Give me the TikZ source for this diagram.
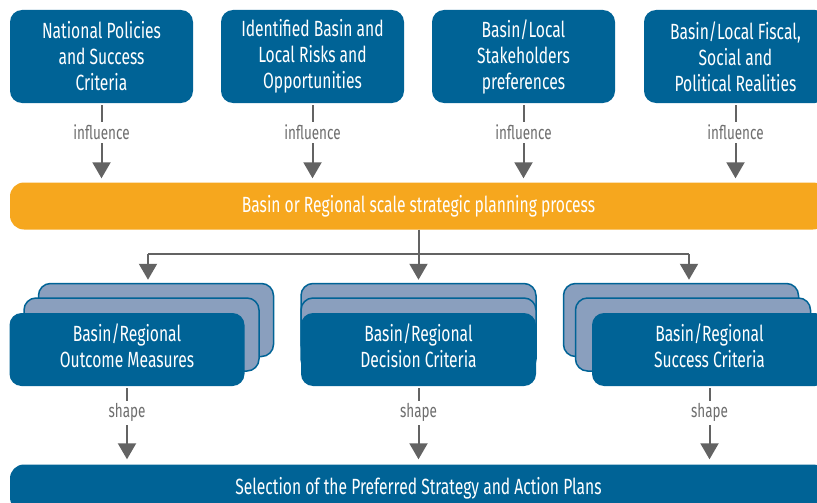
\documentclass[tikz,border=0pt]{standalone}
\usepackage{fontspec}
\setmainfont{Fira Sans}[FakeStretch=0.71]
\usetikzlibrary{arrows.meta}

\definecolor{wbblue}{RGB}{0,99,150}
\definecolor{wbback}{RGB}{138,159,190}
\definecolor{wborange}{RGB}{246,167,30}
\definecolor{arrgray}{RGB}{99,99,99}
\definecolor{lblgray}{RGB}{110,110,110}

\begin{document}
\begin{tikzpicture} [x=1pt,y=-1pt,
  box/.style= {fill=wbblue,rounded corners=12pt,text=white,align=center,minimum width=183pt,minimum height=93pt,inner sep=0,font=\fontsize{22}{26}\selectfont},
  bar/.style= {rounded corners=14pt,text=white,minimum width=817pt,minimum height=47pt,inner sep=0,font=\fontsize{22}{26}\selectfont},
  back/.style= {draw=wbblue,line width=1.5pt,fill=wbback,rounded corners=12pt,minimum width=235pt,minimum height=73pt,inner sep=0},
  front/.style= {fill=wbblue,rounded corners=12pt,text=white,align=center,minimum width=235pt,minimum height=73pt,inner sep=0,text depth=8pt,font=\fontsize{22}{26}\selectfont},
  arr/.style= {draw=arrgray,line width=2pt,-{Triangle[width=18pt,length=16pt]}},
  lbl/.style= {fill=white,text=lblgray,inner sep=3pt,font=\fontsize{19}{20}\selectfont}]
\useasboundingbox (0,0) rectangle (817,503);
\clip (0,0) rectangle (817,503);

% top row
\node[box] (nat) at (101.5,56.5) {National Policies\\and Success\\Criteria};
\node[box] (risk) at (312.5,56.5) {Identified Basin and\\Local Risks and\\Opportunities};
\node[box] (stake) at (523.5,56.5) {Basin/Local\\Stakeholders\\preferences};
\node[box] (fisc) at (735.5,56.5) {Basin/Local Fiscal,\\Social and\\Political Realities};

\node[bar,fill=wborange] (plan) at (418.5,206) {Basin or Regional scale strategic planning process};

\foreach \b in {nat,risk,stake,fisc}
  \draw[arr,shorten <=2pt,shorten >=4pt] (\b.south) -- node[lbl,pos=0.37] {influence} (\b.south |- plan.north);

% stacked boxes
\node[back] (om3) at (156,320) {};
\node[back] (om2) at (141.5,334.5) {};
\node[front] (om) at (127,349.5) {Basin/Regional\\Outcome Measures};

\node[back] (dc3) at (418.5,320) {};
\node[back] (dc2) at (418.5,334.5) {};
\node[front] (dc) at (418.5,349.5) {Basin/Regional\\Decision Criteria};

\node[back] (sc3) at (681,320) {};
\node[back] (sc2) at (693,334.5) {};
\node[front] (sc) at (709.5,349.5) {Basin/Regional\\Success Criteria};

% bus
\coordinate (split) at (418.5,254);
\coordinate (busL) at (148,254);
\coordinate (busR) at (689,254);
\draw[draw=arrgray,line width=2pt] (plan.south) -- (split);
\draw[draw=arrgray,line width=2pt] (busL) -- (busR);
\foreach \c/\t in {busL/om3,split/dc3,busR/sc3}
  \draw[arr,shorten >=3pt] (\c) -- (\c |- \t.north);

\node[bar,fill=wbblue] (sel) at (418.5,488) {Selection of the Preferred Strategy and Action Plans};

\foreach \b in {om,dc,sc}
  \draw[arr,shorten <=2pt,shorten >=5pt] (\b.south) -- node[lbl,pos=0.34] {shape} (\b.south |- sel.north);
\end{tikzpicture}
\end{document}
